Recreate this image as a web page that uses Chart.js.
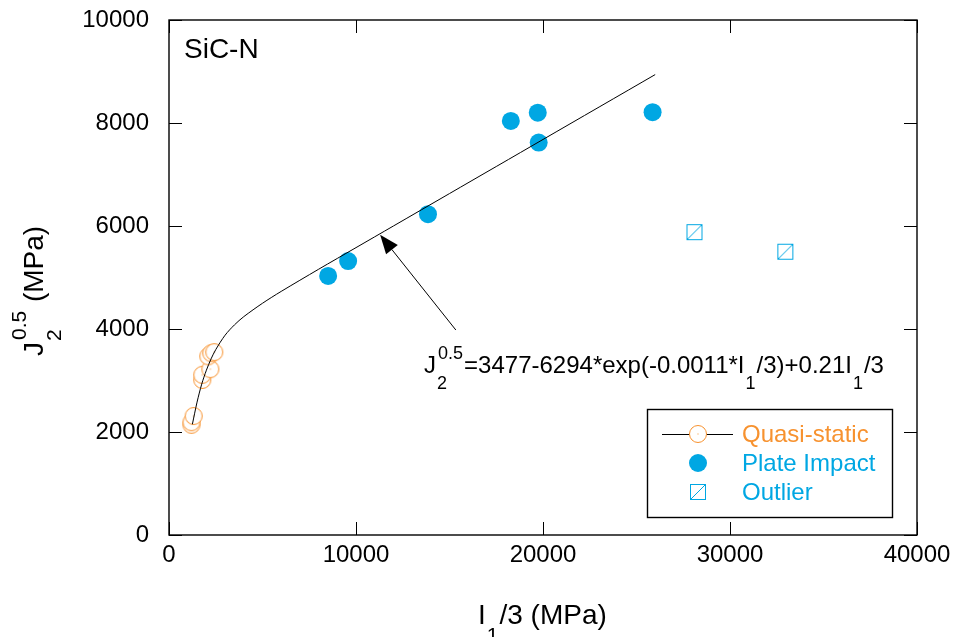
<!DOCTYPE html>
<html>
<head>
<meta charset="utf-8">
<script src="https://cdn.jsdelivr.net/npm/chart.js@4.4.1/dist/chart.umd.min.js"></script>
<style>
  body { margin: 0; background: #fff; }
  canvas { display: block; }
</style>
</head>
<body>
<canvas id="chart" width="953" height="637"></canvas>
<script>
// fitted curve
const fitX = [1250, 1500, 1750, 2000, 2250, 2500, 3000, 3500, 4000, 5000, 6000, 8000, 10000, 12000, 15000, 20000, 26000];
const fitY = [2150, 2580, 2930, 3200, 3420, 3600, 3880, 4080, 4240, 4500, 4730, 5160, 5580, 6000, 6630, 7680, 8940];

// quasi-static tests
const quasiX = [1200, 1200, 1320, 1780, 1780, 2210, 2100, 2260, 2420];
const quasiY = [2140, 2190, 2310, 3010, 3110, 3220, 3470, 3530, 3550];

// plate impact tests
const plateX = [8510, 9580, 13850, 18280, 19720, 19770, 25860];
const plateY = [5030, 5320, 6230, 8040, 8200, 7620, 8210];

// outliers
const outlierX = [28100, 32960];
const outlierY = [5880, 5500];

const xTicks = [0, 10000, 20000, 30000, 40000];
const yTicks = [0, 2000, 4000, 6000, 8000, 10000];

const orange = '#f7922f';
const blue = '#00a7e3';
const FONT = '"Liberation Sans", Arial, sans-serif';

// annotation anchors in data units
const arrowTip = { x: 11290, y: 5830 };
const arrowTail = { x: 15340, y: 3980 };
const eqnAt = { x: 13640, y: 3140 };

const toPoints = (xs, ys) => xs.map((x, i) => ({ x: x, y: ys[i] }));

// open circle with the small centre dot
const makeCircle = () => {
  const c = document.createElement('canvas');
  c.width = 20; c.height = 20;
  const g = c.getContext('2d');
  g.fillStyle = '#fff';
  g.strokeStyle = orange;
  g.lineWidth = 1;
  g.beginPath(); g.arc(10, 10, 8.5, 0, Math.PI * 2); g.fill(); g.stroke();
  g.fillStyle = orange;
  g.fillRect(9.5, 9.5, 1, 1);
  return c;
};

// square with a diagonal
const makeSquare = () => {
  const c = document.createElement('canvas');
  c.width = 18; c.height = 18;
  const g = c.getContext('2d');
  g.strokeStyle = blue;
  g.lineWidth = 1;
  g.strokeRect(1.5, 1.5, 15, 15);
  g.beginPath(); g.moveTo(1.5, 16.5); g.lineTo(16.5, 1.5); g.stroke();
  return c;
};

const circleImg = makeCircle();
const squareImg = makeSquare();

// text with optional subscript / superscript pieces
const drawRich = (ctx, parts, x, y, size) => {
  let cx = x;
  parts.forEach(p => {
    if (p.t) {
      ctx.font = `${size}px ${FONT}`;
      ctx.fillText(p.t, cx, y);
      cx += ctx.measureText(p.t).width;
    }
    let w = 0;
    const small = Math.round(size * 0.75);
    ctx.font = `${small}px ${FONT}`;
    if (p.sub) {
      ctx.fillText(p.sub, cx + 1, y + size * 0.66);
      w = Math.max(w, ctx.measureText(p.sub).width + 2);
    }
    if (p.sup) {
      ctx.fillText(p.sup, cx + 2, y - size * 0.6);
      w = Math.max(w, ctx.measureText(p.sup).width + 3);
    }
    cx += w;
  });
  return cx - x;
};

const extrasPlugin = {
  id: 'extras',
  afterDraw(chart) {
    const { ctx, chartArea: a, scales } = chart;
    const xs = scales.x, ys = scales.y;
    ctx.save();

    // frame
    ctx.strokeStyle = '#000';
    ctx.lineWidth = 1.4;
    ctx.strokeRect(a.left, a.top, a.right - a.left, a.bottom - a.top);

    // inward ticks on four sides
    const tl = 13;
    ctx.lineWidth = 1;
    ctx.beginPath();
    xTicks.forEach(v => {
      const px = Math.round(xs.getPixelForValue(v)) + 0.5;
      ctx.moveTo(px, a.bottom); ctx.lineTo(px, a.bottom - tl);
      ctx.moveTo(px, a.top); ctx.lineTo(px, a.top + tl);
    });
    yTicks.forEach(v => {
      const py = Math.round(ys.getPixelForValue(v)) + 0.5;
      ctx.moveTo(a.left, py); ctx.lineTo(a.left + tl, py);
      ctx.moveTo(a.right, py); ctx.lineTo(a.right - tl, py);
    });
    ctx.stroke();

    ctx.fillStyle = '#000';
    ctx.textBaseline = 'alphabetic';
    ctx.textAlign = 'left';

    // panel label
    ctx.font = `28px ${FONT}`;
    ctx.fillText('SiC-N', a.left + 15, a.top + 38);

    // axis titles
    drawRich(ctx, [{ t: 'I', sub: '1' }, { t: '/3 (MPa)' }], 478, 624, 28);

    ctx.save();
    ctx.translate(43, 356);
    ctx.rotate(-Math.PI / 2);
    drawRich(ctx, [{ t: 'J', sub: '2', sup: '0.5' }, { t: ' (MPa)' }], 0, 0, 28);
    ctx.restore();

    // equation with arrow
    const tx = xs.getPixelForValue(arrowTip.x), ty = ys.getPixelForValue(arrowTip.y);
    const fx = xs.getPixelForValue(arrowTail.x), fy = ys.getPixelForValue(arrowTail.y);
    const ang = Math.atan2(ty - fy, tx - fx);
    const hl = 19, hw = 7.5;
    const bx = tx - hl * Math.cos(ang), by = ty - hl * Math.sin(ang);
    ctx.lineWidth = 1;
    ctx.beginPath(); ctx.moveTo(fx, fy); ctx.lineTo(bx, by); ctx.stroke();
    ctx.beginPath();
    ctx.moveTo(tx, ty);
    ctx.lineTo(bx + hw * Math.sin(ang), by - hw * Math.cos(ang));
    ctx.lineTo(bx - hw * Math.sin(ang), by + hw * Math.cos(ang));
    ctx.closePath(); ctx.fill();

    drawRich(ctx, [
      { t: 'J', sub: '2', sup: '0.5' },
      { t: '=3477-6294*exp(-0.0011*I', sub: '1' },
      { t: '/3)+0.21I', sub: '1' },
      { t: '/3' }
    ], xs.getPixelForValue(eqnAt.x), ys.getPixelForValue(eqnAt.y), 24);

    // legend box
    const lx = 647.5, ly = 409.5, lw = 245, lh = 108;
    ctx.fillStyle = '#fff';
    ctx.fillRect(lx, ly, lw, lh);
    ctx.lineWidth = 1.4;
    ctx.strokeStyle = '#000';
    ctx.strokeRect(lx, ly, lw, lh);
    const sx = 698, rows = [434, 463, 492];
    ctx.lineWidth = 1;
    ctx.beginPath(); ctx.moveTo(662, rows[0] + 0.5); ctx.lineTo(733, rows[0] + 0.5); ctx.stroke();
    ctx.drawImage(circleImg, sx - 10, rows[0] - 10);
    ctx.fillStyle = blue;
    ctx.beginPath(); ctx.arc(sx, rows[1], 9, 0, Math.PI * 2); ctx.fill();
    ctx.drawImage(squareImg, sx - 9, rows[2] - 9);
    ctx.font = `24px ${FONT}`;
    ctx.textBaseline = 'middle';
    const labels = ['Quasi-static', 'Plate Impact', 'Outlier'];
    const colors = [orange, blue, blue];
    labels.forEach((s, i) => {
      ctx.fillStyle = colors[i];
      ctx.fillText(s, 742, rows[i] + 1);
    });

    ctx.restore();
  }
};

new Chart(document.getElementById('chart'), {
  type: 'scatter',
  data: {
    datasets: [
      {
        label: 'Fit',
        data: toPoints(fitX, fitY),
        showLine: true,
        borderColor: '#000',
        borderWidth: 1,
        pointRadius: 0,
        tension: 0.3
      },
      {
        label: 'Quasi-static',
        data: toPoints(quasiX, quasiY),
        pointStyle: circleImg,
        pointRadius: 9
      },
      {
        label: 'Plate Impact',
        data: toPoints(plateX, plateY),
        pointStyle: 'circle',
        pointRadius: 9,
        backgroundColor: blue,
        borderColor: blue,
        borderWidth: 0
      },
      {
        label: 'Outlier',
        data: toPoints(outlierX, outlierY),
        pointStyle: squareImg,
        pointRadius: 9
      }
    ]
  },
  options: {
    responsive: false,
    animation: false,
    layout: { padding: { top: 20, right: 36, left: 0, bottom: 0 } },
    plugins: {
      legend: { display: false },
      tooltip: { enabled: false }
    },
    scales: {
      x: {
        type: 'linear',
        min: 0,
        max: 40000,
        grid: { display: false, drawTicks: false },
        border: { display: false },
        afterBuildTicks: (s) => { s.ticks = xTicks.map(v => ({ value: v })); },
        afterFit: (s) => {
          s.height = 102;
          s.paddingLeft = 0;
          s.paddingRight = 0;
        },
        ticks: {
          padding: 6,
          color: '#000',
          maxRotation: 0,
          font: { family: FONT, size: 24 },
          callback: (v) => String(v)
        }
      },
      y: {
        type: 'linear',
        min: 0,
        max: 10000,
        grid: { display: false, drawTicks: false },
        border: { display: false },
        afterBuildTicks: (s) => { s.ticks = yTicks.map(v => ({ value: v })); },
        afterFit: (s) => {
          s.width = 169;
          s.paddingTop = 0;
          s.paddingBottom = 0;
        },
        ticks: {
          padding: 20,
          color: '#000',
          font: { family: FONT, size: 24 },
          callback: (v) => String(v)
        }
      }
    }
  },
  plugins: [extrasPlugin]
});
</script>
</body>
</html>
